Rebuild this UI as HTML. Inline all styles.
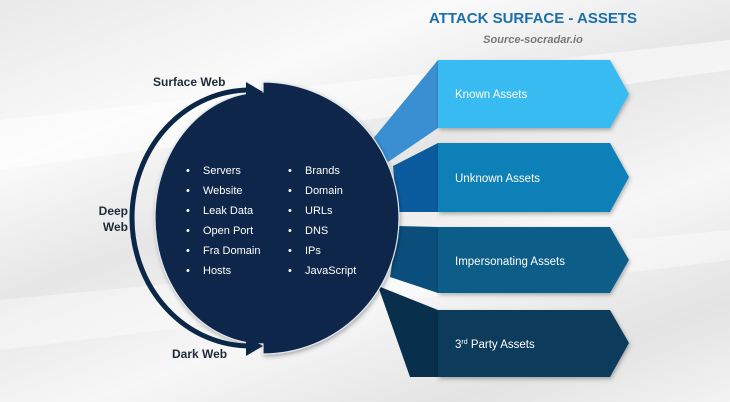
<!DOCTYPE html>
<html><head><meta charset="utf-8"><style>
html,body{margin:0;padding:0}
body{width:730px;height:402px;overflow:hidden;font-family:"Liberation Sans",sans-serif;
background:linear-gradient(160deg,#e9e9e9 0%,#fafafa 25%,#e6e6e6 45%,#f7f7f7 65%,#e3e3e3 85%,#f3f3f3 100%);}
</style></head><body>
<svg width="730" height="402" viewBox="0 0 730 402" xmlns="http://www.w3.org/2000/svg" style="position:absolute;left:0;top:0">
<defs>
<filter id="sh" x="-10%" y="-10%" width="130%" height="130%"><feDropShadow dx="1" dy="2" stdDeviation="2" flood-opacity="0.3"/></filter>
</defs>
<polygon points="0,120 730,40 730,70 0,170" fill="#ffffff" opacity="0.5"/>
<polygon points="0,300 730,230 730,260 0,350" fill="#ffffff" opacity="0.4"/>
<!-- connectors -->
<polygon points="438,60 438,128 388,162 372,140" fill="#3a8fd3"/>
<polygon points="438,143 438,212 397,212 393,166" fill="#0b5c9e"/>
<polygon points="438,227 438,293 390,277 398,226" fill="#0a4e7c"/>
<polygon points="438,310 438,377 410,377 378,286" fill="#082f4c"/>
<!-- chevrons -->
<g filter="url(#sh)">
<polygon points="438,60 610,60 629,94 610,128 438,128" fill="#37bbf1"/>
<polygon points="438,143 610,143 629,177 610,212 438,212" fill="#0b80b7"/>
<polygon points="438,227 610,227 629,260 610,293 438,293" fill="#0a5d89"/>
<polygon points="438,310 610,310 629,343 610,377 438,377" fill="#0a3b5b"/>
</g>
<!-- circle shape -->
<path d="M263,82 A136,136 0 0 1 263,354 L263,344 A108,126 0 0 1 263,92 Z" fill="#0a2748" stroke="#dfe6ee" stroke-width="1.2" filter="url(#sh)"/>
<path d="M250,90 A118,128 0 0 0 250,346" fill="none" stroke="#0a2748" stroke-width="5"/>
<polygon points="246,82 263,92 246,102" fill="#0a2748"/>
<polygon points="246,336 263,346 246,356" fill="#0a2748"/>
<g font-family="Liberation Sans, sans-serif" font-weight="bold">
<text x="533" y="23" text-anchor="middle" fill="#1b70a9" font-size="15">ATTACK SURFACE - ASSETS</text>
<text x="533" y="43" text-anchor="middle" fill="#777" font-size="11" font-style="italic">Source-socradar.io</text>
<text x="153" y="86" fill="#1d2a38" font-size="12">Surface Web</text>
<text x="128" y="215" text-anchor="end" fill="#1d2a38" font-size="12">Deep</text>
<text x="128" y="231" text-anchor="end" fill="#1d2a38" font-size="12">Web</text>
<text x="172" y="358" fill="#1d2a38" font-size="12">Dark Web</text>
</g>
<g font-family="Liberation Sans, sans-serif" fill="#fff" font-size="11.5">
<text x="455" y="98">Known Assets</text>
<text x="455" y="182">Unknown Assets</text>
<text x="455" y="265">Impersonating Assets</text>
<text x="455" y="348">3<tspan font-size="7" dy="-4">rd</tspan><tspan dy="4"> Party Assets</tspan></text>
</g>
<g font-family="Liberation Sans, sans-serif" fill="#fff" font-size="11">
<text x="186" y="174">•</text><text x="203" y="174">Servers</text>
<text x="186" y="194">•</text><text x="203" y="194">Website</text>
<text x="186" y="214">•</text><text x="203" y="214">Leak Data</text>
<text x="186" y="234">•</text><text x="203" y="234">Open Port</text>
<text x="186" y="254">•</text><text x="203" y="254">Fra Domain</text>
<text x="186" y="274">•</text><text x="203" y="274">Hosts</text>
<text x="288" y="174">•</text><text x="305" y="174">Brands</text>
<text x="288" y="194">•</text><text x="305" y="194">Domain</text>
<text x="288" y="214">•</text><text x="305" y="214">URLs</text>
<text x="288" y="234">•</text><text x="305" y="234">DNS</text>
<text x="288" y="254">•</text><text x="305" y="254">IPs</text>
<text x="288" y="274">•</text><text x="305" y="274">JavaScript</text>
</g>
</svg>
</body></html>
